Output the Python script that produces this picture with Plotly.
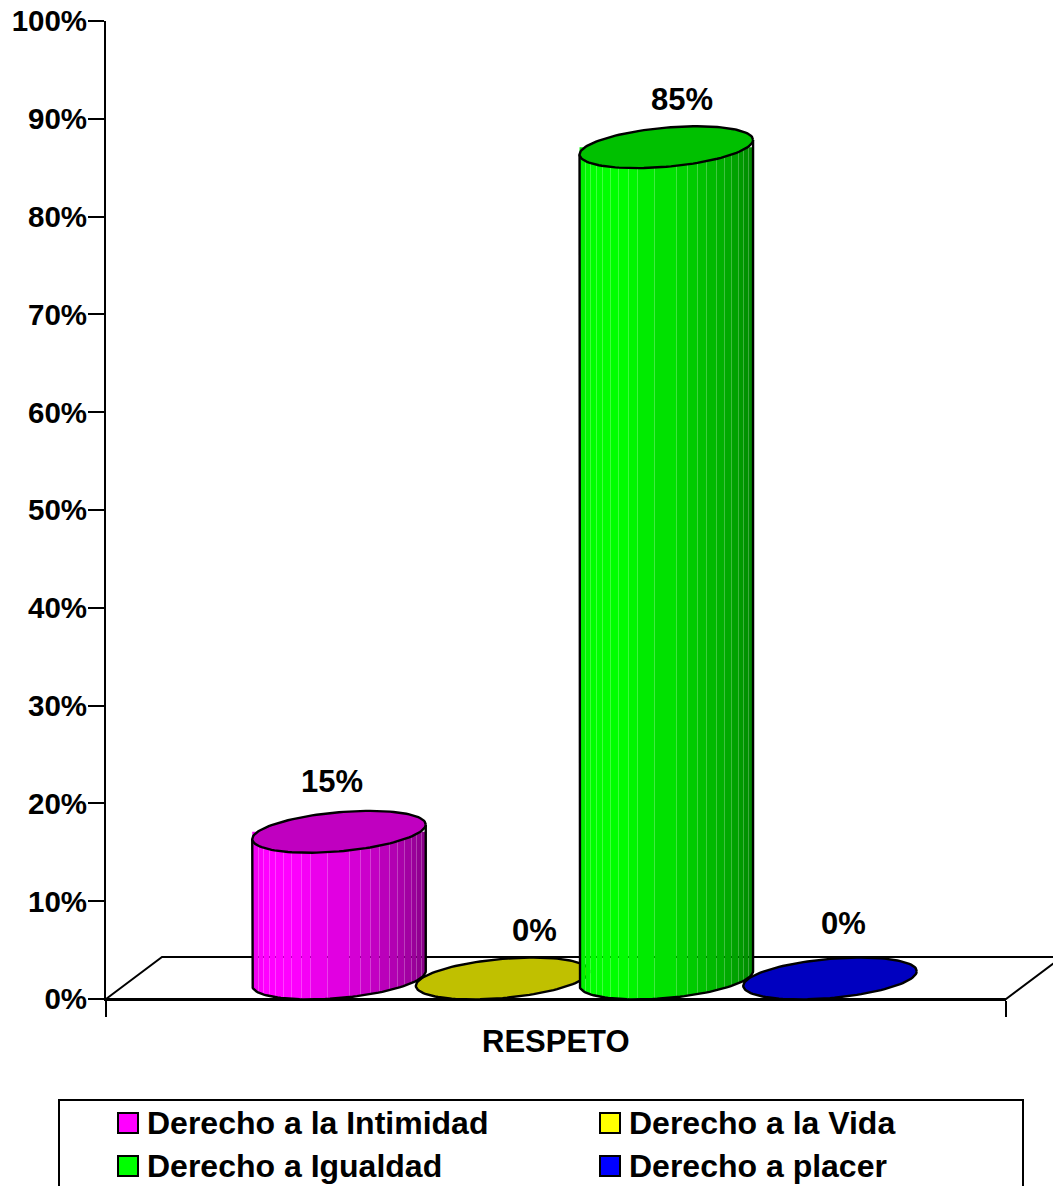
import math
import plotly.graph_objects as go

# Survey results for the single "RESPETO" group
category = "RESPETO"
series_names = ["Derecho a la Intimidad", "Derecho a la Vida", "Derecho a Igualdad", "Derecho a placer"]
series_values = [15, 0, 85, 0]
y_ticks = [0, 10, 20, 30, 40, 50, 60, 70, 80, 90, 100]
y_tick_labels = [f"{t}%" for t in y_ticks]

# Colours: side hue as an rgb mask, and the darker lid colour
side_masks = [(1, 0, 1), (1, 1, 0), (0, 1, 0), (0, 0, 1)]
lid_colours = ["rgb(192,0,192)", "rgb(192,192,0)", "rgb(0,192,0)", "rgb(0,0,192)"]
swatch_colours = ["rgb(255,0,255)", "rgb(255,255,0)", "rgb(0,255,0)", "rgb(0,0,255)"]

# Page geometry, in pixels
W, H = 1053, 1186
AXIS_LEFT, AXIS_RIGHT = 106.0, 1006.0
AXIS_TOP, AXIS_BOTTOM = 21.0, 999.0
PX_PER_PCT = (AXIS_BOTTOM - AXIS_TOP) / 100

# Cylinder shape: sheared ellipse standing on the floor
CENTRES = [233.0, 396.6, 560.3, 724.0]
HALF_W = 86.75
SHEAR = 7.3
HALF_H = 19.6
BASE_PCT = 20.5 / PX_PER_PCT
FLOOR_DX, FLOOR_DY = 56, 42
OUTLINE = 2.4

# Shading bands on the cylinder side: start offset and brightness
BAND_STARTS = [0, 6, 11, 17, 23, 31, 39, 49, 58, 75, 97, 108, 118, 127, 137, 145, 152, 159, 164, 169]
BAND_LEVELS = [240, 250, 255, 255, 255, 255, 252, 245, 235, 225, 212, 203, 194, 186, 178, 170, 162, 154, 146, 138]

# Label placement relative to each lid, in pixels
LABEL_OFFSETS = [(-7, 50), (32, 48), (16, 48), (13, 55)]

FONT = "Liberation Sans, Arial, sans-serif"


def pct(px):
    return px / PX_PER_PCT


def rim_point(cx, level, t):
    return (cx + HALF_W * math.cos(t),
            level + pct(SHEAR * math.cos(t) + HALF_H * math.sin(t)))


def lower_rim_y(cx, level, x):
    c = max(-1.0, min(1.0, (x - cx) / HALF_W))
    t = -math.acos(c)
    return rim_point(cx, level, t)[1]


def px_x(v):
    return v / W


def px_y(v):
    return 1 - v / H


fig = go.Figure()


def poly(xs, ys, fill=None, line=None):
    fig.add_trace(go.Scatter(
        x=xs, y=ys, mode="lines", cliponaxis=False, hoverinfo="skip", showlegend=False,
        fill="toself" if fill else None,
        fillcolor=fill,
        line=dict(color=line or "rgba(0,0,0,0)", width=OUTLINE if line else 0),
    ))


# Cylinders, drawn in series order so each overlaps the previous one
for value, cx, mask, lid in zip(series_values, CENTRES, side_masks, lid_colours):
    base = BASE_PCT
    top = value + base
    if value > 0:
        left = cx - HALF_W
        edges = [left] + [math.floor(left + AXIS_LEFT + s) + 0.5 - AXIS_LEFT for s in BAND_STARTS[1:]] + [cx + HALF_W]
        for x0, x1, level in zip(edges[:-1], edges[1:], BAND_LEVELS):
            steps = 6
            xs = [x0 + (x1 - x0) * i / steps for i in range(steps + 1)]
            ys = [lower_rim_y(cx, base, x) for x in xs]
            colour = f"rgb({level * mask[0]},{level * mask[1]},{level * mask[2]})"
            poly(xs + [x1, x0, x0], ys + [top, top, ys[0]], fill=colour)
        # Silhouette of the side wall
        arc = [rim_point(cx, base, -math.pi + math.pi * i / 60) for i in range(61)]
        poly([cx - HALF_W] + [p[0] for p in arc] + [cx + HALF_W],
             [rim_point(cx, top, math.pi)[1]] + [p[1] for p in arc] + [rim_point(cx, top, 0)[1]],
             line="black")
    lid_pts = [rim_point(cx, top, 2 * math.pi * i / 120) for i in range(121)]
    poly([p[0] for p in lid_pts], [p[1] for p in lid_pts], fill=lid, line="black")

# Value labels
annotations = []
for value, cx, (dx, dy) in zip(series_values, CENTRES, LABEL_OFFSETS):
    annotations.append(dict(
        x=cx + dx, y=value + BASE_PCT + pct(dy), xref="x", yref="y",
        text=f"<b>{value}%</b>", showarrow=False,
        font=dict(family=FONT, size=31, color="black"),
    ))

# Category name under the axis
annotations.append(dict(
    x=0.5 * (AXIS_RIGHT - AXIS_LEFT), y=px_y(1041), xref="x", yref="paper", yanchor="middle",
    text=f"<b>{category}</b>", showarrow=False,
    font=dict(family=FONT, size=31, color="black"),
))

# Floor parallelogram sits behind everything and runs past the right page edge
floor_path = (
    f"M {px_x(AXIS_LEFT)} {px_y(AXIS_BOTTOM)} "
    f"L {px_x(AXIS_LEFT + FLOOR_DX)} {px_y(AXIS_BOTTOM - FLOOR_DY)} "
    f"L {px_x(AXIS_RIGHT + FLOOR_DX)} {px_y(AXIS_BOTTOM - FLOOR_DY)} "
    f"L {px_x(AXIS_RIGHT)} {px_y(AXIS_BOTTOM)} Z"
)
shapes = [dict(type="path", xref="paper", yref="paper", path=floor_path,
               line=dict(color="black", width=2), fillcolor="white", layer="below")]

# Legend frame, swatches and entries
shapes.append(dict(type="rect", xref="paper", yref="paper", x0=px_x(59), x1=px_x(1023),
                   y0=px_y(1100), y1=px_y(1195), line=dict(color="black", width=2),
                   fillcolor="white", layer="below"))
LEGEND_COLS = [118, 600]
LEGEND_ROWS = [1123, 1166]
for i, (name, colour) in enumerate(zip(series_names, swatch_colours)):
    sx, sy = LEGEND_COLS[i % 2], LEGEND_ROWS[i // 2]
    shapes.append(dict(type="rect", xref="paper", yref="paper",
                       x0=px_x(sx), x1=px_x(sx + 20), y0=px_y(sy - 10), y1=px_y(sy + 10),
                       line=dict(color="black", width=2), fillcolor=colour))
    annotations.append(dict(
        x=px_x(sx + 27), y=px_y(sy), xref="paper", yref="paper", xanchor="left", yanchor="middle",
        text=f"<b>{name}</b>", showarrow=False,
        font=dict(family=FONT, size=32, color="black"),
    ))

fig.update_layout(
    width=W, height=H, autosize=False,
    margin=dict(l=0, r=0, t=0, b=0),
    paper_bgcolor="white", plot_bgcolor="rgba(0,0,0,0)",
    showlegend=False,
    shapes=shapes,
    annotations=annotations,
    xaxis=dict(
        domain=[AXIS_LEFT / W, AXIS_RIGHT / W],
        range=[0, AXIS_RIGHT - AXIS_LEFT],
        automargin=False,
        showgrid=False, zeroline=False,
        showline=True, linecolor="black", linewidth=2,
        ticks="outside", ticklen=16, tickwidth=2, tickcolor="black",
        tickmode="array", tickvals=[0, AXIS_RIGHT - AXIS_LEFT], ticktext=["", ""],
    ),
    yaxis=dict(
        domain=[1 - AXIS_BOTTOM / H, 1 - AXIS_TOP / H],
        range=[0, 100],
        automargin=False,
        showgrid=False, zeroline=False,
        showline=True, linecolor="black", linewidth=2,
        ticks="outside", ticklen=16, tickwidth=2, tickcolor="black",
        tickmode="array", tickvals=y_ticks, ticktext=[f"<b>{t}</b>" for t in y_tick_labels],
        tickfont=dict(family=FONT, size=29.5, color="black"),
        ticklabelstandoff=-5,
    ),
)

fig.write_html("out.html")
